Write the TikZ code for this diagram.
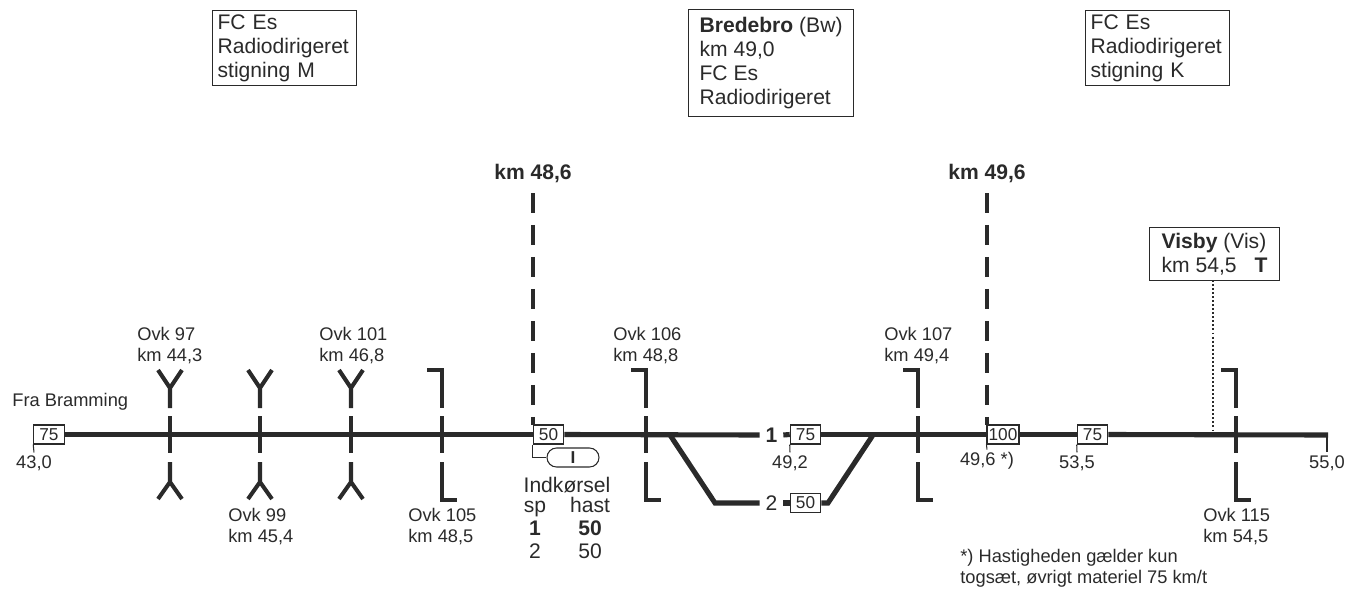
\documentclass[tikz,border=0pt]{standalone}
\usepackage{fontspec}
\setmainfont{Liberation Sans}
\usetikzlibrary{positioning,calc}
\definecolor{trackdark}{RGB}{42,42,42}
\newcommand{\smallfont}{\fontsize{10.4}{11.8}\selectfont}
\newcommand{\bigfont}{\fontsize{12}{13.6}\selectfont}
\tikzset{
    track/.style={line width=2.9pt},
    barrier/.style={line width=2.3pt},
    thinline/.style={line width=0.6pt},
    infobox/.style={draw, fill=white, anchor=north west, align=left, font=\bigfont, line width=0.7pt, inner ysep=0pt},
    speedbox/.style={draw, fill=white, minimum width=0.61cm, minimum height=0.38cm, inner sep=0pt, line width=0.6pt, font=\fontsize{9.8}{11}\selectfont},
    ovklabel/.style={anchor=north west, align=left, inner sep=0pt, font=\smallfont},
    kmlabel/.style={inner sep=1.5pt, font=\smallfont},
    tablabel/.style={anchor=base, inner sep=0pt, font=\bigfont},
    tracklabel/.style={minimum width=0.46cm, inner sep=0pt, font=\bigfont}
}

\begin{document}
\begin{tikzpicture}[x=0.02cm, y=-0.02cm, color=trackdark]
    \useasboundingbox (0,0) rectangle (1347,589);

    % info boxes at the top
    \node[infobox, text width=2.68cm, minimum height=1.5cm, inner xsep=0.1cm] (boxM) at (212,10) {FC Es\\Radiodirigeret\\stigning M};
    \node[infobox, minimum height=2.14cm, inner xsep=0.22cm] (boxBw) at (688,9) {\textbf{Bredebro} (Bw)\\km 49,0\\FC Es\\Radiodirigeret};
    \node[infobox, text width=2.68cm, minimum height=1.5cm, inner xsep=0.1cm] (boxK) at (1085,10) {FC Es\\Radiodirigeret\\stigning K};
    \node[infobox, minimum height=1.06cm, inner xsep=0.24cm] (boxVis) at (1149,227) {\textbf{Visby} (Vis)\\km 54,5\hspace{0.36cm}\textbf{T}};

    \node[font=\bigfont\bfseries, inner sep=0pt] (km486) at (533,173) {km 48,6};
    \node[font=\bigfont\bfseries, inner sep=0pt] (km496) at (987,173) {km 49,6};

    % speed boxes and track numbers
    \node[speedbox] (spd430) at (49,434.5) {75};
    \node[speedbox] (spd486) at (548.5,434.5) {50};
    \node[speedbox] (spd492) at (805.5,434.5) {75};
    \node[speedbox] (spd2) at (805.5,503) {50};
    \node[speedbox, minimum width=0.64cm] (spd496) at (1003,434.5) {100};
    \node[speedbox] (spd535) at (1092.5,434.5) {75};
    \node[tracklabel] (trk1) at (771.5,435) {\textbf{1}};
    \node[tracklabel] (trk2) at (771.5,503) {2};

    \coordinate (swA) at (670,435);
    \coordinate (bendA) at (715,503);
    \coordinate (bendB) at (828,503);
    \coordinate (swB) at (873,435);
    \coordinate (trackend) at (1328,435);
    \coordinate (visbyfoot) at (1213,435);
    \coordinate (tickstart) at (1327,435);
    \coordinate (dashA) at (533,193);
    \coordinate (dashB) at (987,193);
    \coordinate (dashAend) at (533,425);
    \coordinate (dashBend) at (987,425);
    \coordinate (boxVisfoot) at (1213,280);

    % main line and side track
    \draw[track] (spd430.east) -- (spd486.west);
    \draw[track] (spd486.east) -- (trk1.west);
    \draw[track] (trk1.east) -- (spd492.west);
    \draw[track] (spd492.east) -- (spd496.west);
    \draw[track] (spd496.east) -- (spd535.west);
    \draw[track] (spd535.east) -- (trackend);
    \draw[track] (swA) -- (bendA) -- (trk2.west);
    \draw[track] (trk2.east) -- (spd2.west);
    \draw[track] (spd2.east) -- (bendB) -- (swB);

    % level crossings
    \foreach \x in {170,260,351} {
        \draw[barrier] (\x,416) -- (\x,453);
        \draw[barrier] (\x,408) -- (\x,388) -- (\x-12,370) (\x,388) -- (\x+12,370);
        \draw[barrier] (\x,462) -- (\x,482) -- (\x-12,499) (\x,482) -- (\x+12,499);
    }
    \foreach \x in {442,646,918,1236} {
        \draw[barrier] (\x,416) -- (\x,453);
        \draw[barrier] (\x-15,370) -- (\x,370) -- (\x,408);
        \draw[barrier] (\x,462) -- (\x,500) -- (\x+15,500);
    }

    % dashed section limits
    \draw[barrier, dash pattern=on 0.4cm off 0.24cm] (dashA) -- (dashAend);
    \draw[barrier, dash pattern=on 0.4cm off 0.24cm] (dashB) -- (dashBend);
    \draw[line width=1.3pt, dash pattern=on 1.1pt off 1.2pt] (boxVisfoot) -- (visbyfoot);

    % km labels with ticks
    \node[kmlabel] (lab430) at (34,463) {43,0};
    \node[kmlabel] (lab492) at (790,463) {49,2};
    \node[kmlabel] (lab496) at (987,461) {49,6 *)};
    \node[kmlabel] (lab535) at (1077,463) {53,5};
    \node[kmlabel] (lab550) at (1327,463) {55,0};
    \draw[thinline] (spd430.south west) -- (lab430.north);
    \draw[thinline] (spd492.south west) -- (lab492.north);
    \draw[thinline] (spd496.south west) -- (lab496.north);
    \draw[thinline] (spd535.south west) -- (lab535.north);
    \draw[thinline] (tickstart) -- (lab550.north);

    % entry signal
    \node[draw, fill=white, rounded corners=0.19cm, minimum width=1.04cm, minimum height=0.38cm, inner sep=0pt, line width=0.6pt, font=\fontsize{9.8}{11}\selectfont\bfseries] (sigI) at (573,457.5) {I};
    \draw[thinline] (spd486.south west) |- (sigI.west);

    \node[tablabel] (tabhead) at (567,492) {Indkørsel};
    \node[tablabel] (tabsp) at (535,512) {sp};
    \node[tablabel] (tabhast) at (590,512) {hast};
    \node[tablabel] (tabA) at (535,535) {\textbf{1}};
    \node[tablabel] (tabB) at (590,535) {\textbf{50}};
    \node[tablabel] (tabC) at (535,558) {2};
    \node[tablabel] (tabD) at (590,558) {50};

    % crossing names
    \node[ovklabel] (ovk97) at (137,327) {Ovk 97\\km 44,3};
    \node[ovklabel] (ovk99) at (228,508) {Ovk 99\\km 45,4};
    \node[ovklabel] (ovk101) at (319,327) {Ovk 101\\km 46,8};
    \node[ovklabel] (ovk105) at (408,508) {Ovk 105\\km 48,5};
    \node[ovklabel] (ovk106) at (613,327) {Ovk 106\\km 48,8};
    \node[ovklabel] (ovk107) at (884,327) {Ovk 107\\km 49,4};
    \node[ovklabel] (ovk115) at (1203,508) {Ovk 115\\km 54,5};

    \node[ovklabel] (fra) at (12,393) {Fra Bramming};
    \node[ovklabel] (note) at (960,549) {*) Hastigheden gælder kun\\togsæt, øvrigt materiel 75 km/t};
\end{tikzpicture}
\end{document}
